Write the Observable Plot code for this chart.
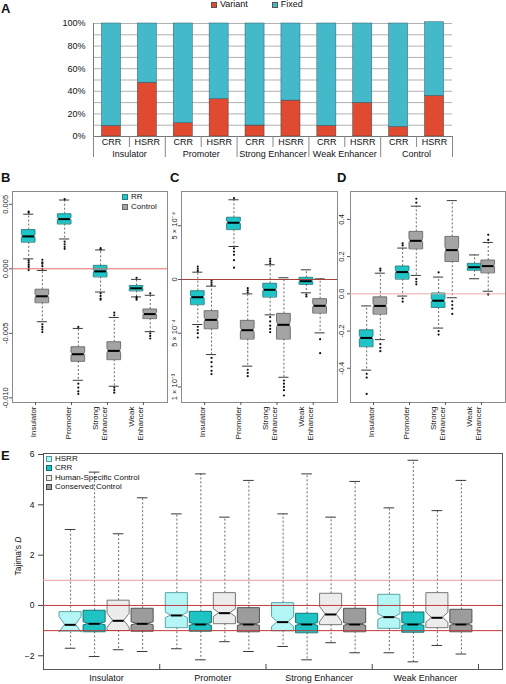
<!DOCTYPE html>
<html><head><meta charset="utf-8">
<script src="https://cdn.jsdelivr.net/npm/d3@7"></script>
<script src="https://cdn.jsdelivr.net/npm/@observablehq/plot@0.6"></script>
<style>
body{margin:0;background:#fff;}
#root{position:relative;width:506px;height:684px;overflow:hidden;font-family:"Liberation Sans",Arial,sans-serif;color:#111;}
.panel{position:absolute;}
.lbl{position:absolute;font-weight:bold;font-size:13px;line-height:1;}
.leg{position:absolute;white-space:nowrap;line-height:1;}
.sw{display:inline-block;box-sizing:border-box;vertical-align:middle;margin-right:3px;border:1px solid #333;}
</style></head><body><div id="root"></div>
<script>
// ---------- Panel A data ----------
const aGroups = ["Insulator", "Promoter", "Strong Enhancer", "Weak Enhancer", "Control"];
const aSubs = ["CRR", "HSRR"];
const aVariant = [9.4, 47.6, 11.8, 33.0, 9.7, 31.8, 9.4, 29.7, 8.5, 35.9];
const aFixed   = [90.6, 52.4, 88.2, 67.0, 90.3, 68.2, 90.6, 70.3, 91.5, 65.2];
const aYTicks = [0, 20, 40, 60, 80, 100];

// ---------- Panels B-D data: [q1, median, q3, lowerWhisker, upperWhisker] ----------
const bcdCats = ["Insulator", "Promoter", "Strong\nEnhancer", "Weak\nEnhancer"];

const bRR   = [[0.00205, 0.00251, 0.0030, 0.00077, 0.00423], [0.00346, 0.00385, 0.00423, 0.00231, 0.00533], [-0.00064, -0.0002, 0.00023, -0.0018, 0.00146], [-0.00172, -0.00151, -0.00133, -0.00218, -0.00082]];
const bCtrl = [[-0.00264, -0.00213, -0.00162, -0.0041, -0.00013], [-0.00718, -0.00662, -0.00608, -0.00864, -0.00462], [-0.00705, -0.00636, -0.00569, -0.0091, -0.00377], [-0.00387, -0.00351, -0.00315, -0.00487, -0.00205]];
const bRROut   = [[0.00435, 0.00444, 0.00065, 0.0005, 0.00035, 0.0002, 0.00005, -0.0001], [0.0054, 0.0021, 0.0019, 0.0017, 0.00155], [0.0015, 0.0016, -0.0019, -0.0021, -0.0023, -0.0024], [-0.0007, -0.0022, -0.0023, -0.0024]];
const bCtrlOut = [[0.0, 0.0002, 0.0004, 0.0005, 0.0007, -0.0043, -0.0045, -0.0047, -0.0049], [-0.0045, -0.0089, -0.0092, -0.0095, -0.0097], [-0.0036, -0.0034, -0.0092, -0.0094, -0.0096], [-0.0019, -0.0050, -0.0052, -0.0054]];
const bYTicks = [0.005, 0, -0.005, -0.010];
const bYLabels = ["0.005", "0.000", "-0.005", "-0.010"];

// panel C values in units of 1e-4
const cRR   = [[-2.36, -1.65, -1.09, -4.19, 0.68], [4.63, 5.28, 5.75, 3.07, 7.42], [-1.65, -0.96, -0.40, -3.29, 1.37], [-0.47, -0.16, 0.16, -1.24, 0.90]];
const cCtrl = [[-4.60, -3.76, -2.95, -6.99, -0.62], [-5.56, -4.72, -3.85, -8.07, -1.34], [-5.56, -4.22, -3.20, -9.10, 0.16], [-3.14, -2.45, -1.83, -4.97, 0.06]];
const cRROut   = [[0.8, 1.0, 1.2, -4.4, -4.7, -5.0, -5.4], [7.58, 2.9, 2.6, 2.3, 1.8, 1.1], [1.5, 1.7, 1.93, -3.5, -3.9, -4.3, -4.6, -4.9], [-1.4, -1.58]];
const cCtrlOut = [[-0.1, -0.3, -0.5, -7.3, -7.7, -8.1, -8.5, -8.8], [-0.81, -1.0, -1.2, -8.4, -8.7, -9.0], [-9.4, -9.7, -10.0, -10.3, -10.8], [-5.56, -6.86]];
const cYTicks = [5, 0, -5, -10];
const cYLabels = ["5 × 10⁻⁴", "0", "5 × 10⁻⁴", "1 × 10⁻³"];

const dRR   = [[-0.285, -0.237, -0.196, -0.41, -0.065], [0.078, 0.117, 0.147, -0.012, 0.246], [-0.074, -0.037, 0.002, -0.184, 0.09], [0.126, 0.143, 0.161, 0.081, 0.209]];
const dCtrl = [[-0.11, -0.065, -0.019, -0.246, 0.111], [0.241, 0.285, 0.333, 0.099, 0.471], [0.173, 0.235, 0.306, -0.021, 0.501], [0.112, 0.149, 0.179, 0.014, 0.276]];
const dRROut   = [[-0.43, -0.45, -0.538], [0.26, 0.271, -0.025, -0.042], [0.115, -0.2, -0.219], []];
const dCtrlOut = [[0.125, 0.135, -0.27, -0.29, -0.308], [0.49, 0.511, 0.08, 0.065, 0.051], [-0.04, -0.06, -0.08, -0.108], [0.29, 0.317, 0.0, -0.004]];
const dYTicks = [0.4, 0.2, 0, -0.2, -0.4];
const dYLabels = ["0.4", "0.2", "0.0", "-0.2", "-0.4"];

// ---------- Panel E data: [q1, notchLow, median, notchHigh, q3, lowerWhisker, upperWhisker] ----------
const eGroups = ["Insulator", "Promoter", "Strong Enhancer", "Weak Enhancer"];
const eSeries = ["HSRR", "CRR", "Human-Specific Control", "Conserved Control"];
const eHSRR = [[-1.05, -1.08, -0.77, -0.46, -0.265, -1.70, 3.02], [-0.887, -0.50, -0.397, -0.29, 0.49, -1.72, 3.64], [-1.01, -0.86, -0.662, -0.46, 0.093, -1.63, 3.64], [-0.914, -0.58, -0.464, -0.35, 0.424, -1.88, 3.88]];
const eCRR  = [[-1.05, -0.79, -0.73, -0.67, -0.21, -2.03, 5.3], [-1.03, -0.81, -0.755, -0.70, -0.252, -2.16, 5.23], [-1.09, -0.81, -0.755, -0.70, -0.33, -2.16, 5.23], [-1.07, -0.81, -0.755, -0.70, -0.278, -2.24, 5.77]];
const eHSC  = [[-1.0, -0.89, -0.61, -0.33, 0.19, -1.76, 2.85], [-0.728, -0.46, -0.305, -0.15, 0.49, -1.44, 3.51], [-0.768, -0.66, -0.358, -0.06, 0.464, -1.48, 3.51], [-0.887, -0.69, -0.49, -0.29, 0.49, -1.59, 3.77]];
const eCC   = [[-1.03, -0.79, -0.73, -0.67, -0.13, -1.83, 4.28], [-1.05, -0.81, -0.755, -0.70, -0.106, -1.83, 4.97], [-1.05, -0.81, -0.755, -0.70, -0.132, -1.88, 4.93], [-1.05, -0.81, -0.755, -0.70, -0.172, -1.93, 4.97]];
const eYTicks = [-2, 0, 2, 4, 6];

// ---------- styles ----------
const FONT = '"Liberation Sans", Arial, sans-serif';
const colVariant = "#e04a30", colFixed = "#44b9ca";
const rrFill = "#1ec4c6", rrStroke = "#2a7d80", ctFill = "#a4a4a4", ctStroke = "#666";
const eFills = ["#b4f6f6", "#1ec3c3", "#ececec", "#9c9c9c"];
const eStrokes = ["#4f9a9a", "#0f6a6a", "#6a6a6a", "#474747"];

const root = document.getElementById("root");
function place(el, left, top) { el.classList.add("panel"); el.style.left = left + "px"; el.style.top = top + "px"; root.appendChild(el); }
function html(s) { const d = document.createElement("div"); d.innerHTML = s; return d.firstElementChild; }
const baseStyle = {fontFamily: FONT, fontSize: "8px", background: "transparent", overflow: "visible", color: "#111"};

// ---------- Panel A ----------
const aData = aVariant.map((v, i) => ({i, variant: v, fixed: aFixed[i]}));
const A = Plot.plot({
  width: 506, height: 162, marginTop: 23, marginBottom: 26, marginLeft: 93, marginRight: 54,
  style: {...baseStyle, fontSize: "9px"},
  x: {domain: [-0.5, 9.5], label: null}, y: {domain: [0, 100], label: null},
  marks: [
    Plot.ruleY(d3.range(0, 101, 10), {stroke: "#a8a8a8", strokeWidth: 0.9}),
    Plot.rectY(aData, {x1: d => d.i - 0.265, x2: d => d.i + 0.265, y1: 0, y2: "variant", fill: colVariant, stroke: "#3d3d3d", strokeWidth: 0.5}),
    Plot.rectY(aData, {x1: d => d.i - 0.265, x2: d => d.i + 0.265, y1: "variant", y2: d => d.variant + d.fixed, fill: colFixed, stroke: "#2e5a66", strokeWidth: 0.5}),
    Plot.ruleY([0], {stroke: "#777"}),
    Plot.ruleX([-0.5], {stroke: "#777"}),
    Plot.axisY({ticks: aYTicks, tickFormat: d => d + "%", tickSize: 0, tickPadding: 8, fontSize: 9, label: null}),
    Plot.axisX({ticks: d3.range(10), tickSize: 0, tickPadding: 2, tickFormat: i => aSubs[i % 2], fontSize: 9, label: null}),
    Plot.axisX({ticks: [0.5, 2.5, 4.5, 6.5, 8.5], tickSize: 11, tickFormat: () => "", stroke: "#888", label: null}),
    Plot.axisX({ticks: [-0.5, 1.5, 3.5, 5.5, 7.5, 9.5], tickSize: 21, tickFormat: () => "", stroke: "#888", label: null}),
    Plot.axisX({ticks: [0.5, 2.5, 4.5, 6.5, 8.5], tickSize: 0, tickPadding: 14, tickFormat: d => aGroups[(d - 0.5) / 2], fontSize: 9, label: null})
  ]
});
place(A, 0, 0);
root.appendChild(html(`<div class="leg" style="left:211px;top:0px;font-size:9px;"><span class="sw" style="width:6px;height:6px;background:${colVariant};border-color:#555"></span>Variant<span class="sw" style="width:6px;height:6px;background:${colFixed};border-color:#555;margin-left:24px"></span>Fixed</div>`));

// ---------- box helper ----------
function boxMarks(boxes, o) {
  const poly = boxes.flatMap((b, k) => {
    const full = {x1: b.x - o.half, x2: b.x + o.half, id: k, fill: b.fill, stroke: b.stroke};
    return [
      {...full, y: b.q1}, {...full, y: b.nlo},
      {...full, y: b.med, x1: b.x - o.half * o.notch, x2: b.x + o.half * o.notch},
      {...full, y: b.nhi}, {...full, y: b.q3}
    ];
  });
  const outs = boxes.flatMap(b => (b.out || []).map(v => ({x: b.x, y: v})));
  return [
    Plot.ruleX(boxes, {x: "x", y1: "q3", y2: "whi", stroke: "#444", strokeDasharray: "2,2", strokeWidth: 0.8}),
    Plot.ruleX(boxes, {x: "x", y1: "q1", y2: "wlo", stroke: "#444", strokeDasharray: "2,2", strokeWidth: 0.8}),
    Plot.ruleY(boxes, {y: "whi", x1: b => b.x - o.cap, x2: b => b.x + o.cap, stroke: "#222", strokeWidth: 0.9}),
    Plot.ruleY(boxes, {y: "wlo", x1: b => b.x - o.cap, x2: b => b.x + o.cap, stroke: "#222", strokeWidth: 0.9}),
    Plot.dot(outs, {x: "x", y: "y", r: 1.1, fill: "#111", stroke: "none"}),
    Plot.areaX(poly, {y: "y", x1: "x1", x2: "x2", z: "id", fill: "fill", stroke: "stroke", strokeWidth: 0.9}),
    Plot.ruleY(boxes, {y: "med", x1: b => b.x - o.half * o.notch, x2: b => b.x + o.half * o.notch, stroke: "#000", strokeWidth: 2})
  ];
}
function bcdBoxes(rr, ct, rrOut, ctOut) {
  const mk = (s, i, off, fill, stroke, out) => {
    const [q1, med, q3, wlo, whi] = s, n = 0.12 * (q3 - q1);
    return {x: i + off, q1, med, q3, wlo, whi, nlo: med - n, nhi: med + n, fill, stroke, out};
  };
  return [...rr.map((s, i) => mk(s, i, -0.19, rrFill, rrStroke, rrOut[i])), ...ct.map((s, i) => mk(s, i, 0.19, ctFill, ctStroke, ctOut[i]))];
}
function bcdPanel(boxes, yDomain, yTicks, yLabels, zeroColor, ml, mr, labDx) {
  return Plot.plot({
    width: 170, height: 270, marginTop: 11, marginBottom: 48, marginLeft: ml, marginRight: mr,
    style: baseStyle, color: {type: "identity"},
    x: {domain: [-0.64, 3.67], label: null}, y: {domain: yDomain, label: null},
    marks: [
      Plot.frame({stroke: "#8a8a8a"}),
      ...boxMarks(boxes, {half: 0.19, cap: 0.14, notch: 0.85}),
      Plot.ruleY([0], {stroke: zeroColor, strokeWidth: 1}),
      Plot.axisY({ticks: yTicks, tickSize: 3, tickFormat: () => "", stroke: "#555", label: null}),
      Plot.text(yTicks, {y: d => d, text: (d, i) => yLabels[i], frameAnchor: "left", rotate: -90, textAnchor: "middle", dx: labDx, fontSize: 7.5, fill: "#222"}),
      Plot.axisX({ticks: [0, 1, 2, 3], tickSize: 3, tickFormat: () => "", stroke: "#555", label: null}),
      Plot.text(bcdCats, {x: (d, i) => i, text: d => d, frameAnchor: "bottom", rotate: -90, textAnchor: "end", dy: 4, fontSize: 8, lineHeight: 1.15, fill: "#222"})
    ]
  });
}
place(bcdPanel(bcdBoxes(bRR, bCtrl, bRROut, bCtrlOut), [-0.01036, 0.00599], bYTicks, bYLabels, "#e26b6b", 12, 3, -7), 0, 180);
place(bcdPanel(bcdBoxes(cRR, cCtrl, cRROut, cCtrlOut), [-11.45, 8.19], cYTicks, cYLabels, "#a4423c", 11, 3, -7), 170, 180);
place(bcdPanel(bcdBoxes(dRR, dCtrl, dRROut, dCtrlOut), [-0.584, 0.55], dYTicks, dYLabels, "#f0aaaa", 14, 1, -9), 336, 180);
root.appendChild(html(`<div class="leg" style="left:122px;top:192px;font-size:8px;line-height:10px;"><div><span class="sw" style="width:6px;height:6px;background:${rrFill};border-color:${rrStroke}"></span>RR</div><div><span class="sw" style="width:6px;height:6px;background:${ctFill};border-color:${ctStroke}"></span>Control</div></div>`));

// ---------- Panel E ----------
const eOffsets = [-0.339, -0.113, 0.113, 0.339];
const eBoxes = [eHSRR, eCRR, eHSC, eCC].flatMap((ser, s) => ser.map((v, g) => {
  const [q1, nlo, med, nhi, q3, wlo, whi] = v;
  return {x: g + eOffsets[s], q1, nlo, med, nhi, q3, wlo, whi, fill: eFills[s], stroke: eStrokes[s], out: []};
}));
const E = Plot.plot({
  width: 506, height: 239, marginTop: 8, marginBottom: 15, marginLeft: 43, marginRight: 4,
  style: baseStyle, color: {type: "identity"},
  x: {domain: [-0.594, 3.726], label: null}, y: {domain: [-2.545, 6.04], label: null},
  marks: [
    Plot.frame({stroke: "#555"}),
    ...boxMarks(eBoxes, {half: 0.104, cap: 0.05, notch: 0.5}),
    Plot.ruleY([1], {stroke: "#ee9a9a", strokeWidth: 1}),
    Plot.ruleY([0, -1], {stroke: "#c23a3a", strokeWidth: 1}),
    Plot.axisY({ticks: eYTicks, tickSize: 5, tickPadding: 4, fontSize: 8.5, stroke: "#444", label: null}),
    Plot.axisX({ticks: [0.5, 1.5, 2.5, 3.5], tickSize: 5, dy: -5, tickFormat: () => "", stroke: "#444", label: null}),
    Plot.axisX({ticks: [0, 1, 2, 3], tickSize: 0, tickPadding: 5, tickFormat: d => eGroups[d], fontSize: 9, label: null})
  ]
});
place(E, 0, 445);
root.appendChild(html(`<div class="leg" style="left:46px;top:454px;font-size:8px;line-height:9.4px;">${eSeries.map((s, i) => `<div><span class="sw" style="width:6px;height:6px;background:${eFills[i]};border-color:${eStrokes[i]}"></span>${s}</div>`).join("")}</div>`));
root.appendChild(html(`<div class="leg" style="left:18px;top:556px;font-size:8.5px;transform:translate(-50%,-50%) rotate(-90deg);">Tajima's <i>D</i></div>`));

// ---------- panel letters ----------
[["A", 1, 2], ["B", 1, 171], ["C", 170, 171], ["D", 337, 171], ["E", 1, 449]].forEach(([t, x, y]) =>
  root.appendChild(html(`<div class="lbl" style="left:${x}px;top:${y}px;">${t}</div>`)));
</script></body></html>
